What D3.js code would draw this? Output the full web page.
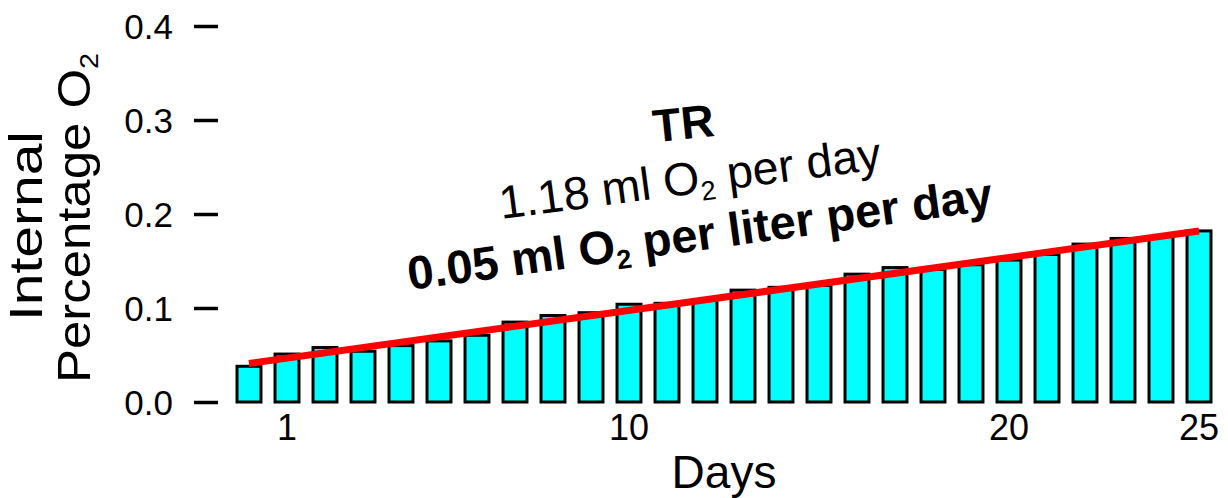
<!DOCTYPE html>
<html>
<head>
<meta charset="utf-8">
<script src="https://cdn.jsdelivr.net/npm/d3@7"></script>
<style>
  body { margin: 0; background: #fff; }
  text { font-family: "Liberation Sans", Arial, sans-serif; fill: #000; }
</style>
</head>
<body>
<svg id="chart"></svg>
<script>
// days 0..25 and internal percentage O2
var days = d3.range(0, 26);
var o2Values = [0.038, 0.051, 0.058, 0.054, 0.060, 0.065, 0.071, 0.085, 0.092, 0.095,
                0.104, 0.105, 0.109, 0.119, 0.122, 0.124, 0.136, 0.143, 0.141, 0.146,
                0.151, 0.157, 0.168, 0.174, 0.176, 0.182];
var trendDays = [0, 25];
var trendValues = [0.041, 0.182];
var xTickLabels = [1, 10, 20, 25];
var yTicks = [0.0, 0.1, 0.2, 0.3, 0.4];

const width = 1228, height = 498;

const svg = d3.select("#chart")
    .attr("width", width)
    .attr("height", height);

// scales
var xScale = d3.scaleBand()
    .domain(days)
    .range([230, 1218])
    .paddingInner(0.37)
    .paddingOuter(0.185);

var yScale = d3.scaleLinear()
    .domain([0, 0.4])
    .range([402, 26]);

// y axis: only ticks, no domain line
var yAxis = svg.append("g")
    .attr("transform", "translate(218,0)")
    .call(d3.axisLeft(yScale)
        .tickValues(yTicks)
        .tickFormat(d3.format(".1f"))
        .tickSize(24)
        .tickPadding(21));
yAxis.select(".domain").remove();
yAxis.selectAll("line").attr("stroke", "#000").attr("stroke-width", 3.5);
yAxis.selectAll("text")
    .style("font-family", "Liberation Sans, Arial, sans-serif")
    .style("font-size", "35px")
    .attr("dy", "0.36em");

// x axis: labels only
var xAxis = svg.append("g")
    .attr("transform", "translate(0,404)")
    .call(d3.axisBottom(xScale)
        .tickValues(xTickLabels)
        .tickSize(0)
        .tickPadding(10));
xAxis.select(".domain").remove();
xAxis.selectAll("text")
    .style("font-family", "Liberation Sans, Arial, sans-serif")
    .style("font-size", "36px");

// bars
svg.selectAll(".bar")
    .data(days)
    .join("rect")
    .attr("class", "bar")
    .attr("x", d => xScale(d))
    .attr("y", (d, i) => yScale(o2Values[i]))
    .attr("width", xScale.bandwidth())
    .attr("height", (d, i) => yScale(0) - yScale(o2Values[i]))
    .attr("fill", "#00ffff")
    .attr("stroke", "#000")
    .attr("stroke-width", 3);

// trend line
var line = d3.line()
    .x(d => xScale(d[0]) + xScale.bandwidth() / 2)
    .y(d => yScale(d[1]));

svg.append("path")
    .datum(trendDays.map((d, i) => [d, trendValues[i]]))
    .attr("d", line)
    .attr("fill", "none")
    .attr("stroke", "#ff0000")
    .attr("stroke-width", 7);

// annotation text
svg.append("text")
    .attr("transform", "translate(685,139) rotate(-6)")
    .attr("text-anchor", "middle")
    .style("font-size", "46px")
    .style("font-weight", "bold")
    .text("TR");

var t1 = svg.append("text")
    .attr("transform", "translate(692,194) rotate(-7.5)")
    .attr("text-anchor", "middle")
    .style("font-size", "46.5px");
t1.append("tspan").text("1.18 ml O");
t1.append("tspan").attr("dy", 8).style("font-size", "27px").text("2");
t1.append("tspan").attr("dy", -8).text(" per day");

var t2 = svg.append("text")
    .attr("transform", "translate(702,250) rotate(-7.8)")
    .attr("text-anchor", "middle")
    .style("font-size", "47px")
    .style("font-weight", "bold");
t2.append("tspan").text("0.05 ml O");
t2.append("tspan").attr("dy", 8).style("font-size", "27px").text("2");
t2.append("tspan").attr("dy", -8).text(" per liter per day");

// axis titles
svg.append("text")
    .attr("x", (230 + 1218) / 2)
    .attr("y", 488)
    .attr("text-anchor", "middle")
    .style("font-size", "46px")
    .text("Days");

svg.append("text")
    .attr("transform", "translate(42,226) rotate(-90)")
    .attr("text-anchor", "middle")
    .attr("textLength", 190)
    .attr("lengthAdjust", "spacingAndGlyphs")
    .style("font-size", "46px")
    .text("Internal");

var yt = svg.append("text")
    .attr("transform", "translate(90,218) rotate(-90)")
    .attr("text-anchor", "middle")
    .attr("textLength", 330)
    .attr("lengthAdjust", "spacingAndGlyphs")
    .style("font-size", "46px");
yt.append("tspan").text("Percentage O");
yt.append("tspan").attr("dy", 8).style("font-size", "26px").text("2");
</script>
</body>
</html>
